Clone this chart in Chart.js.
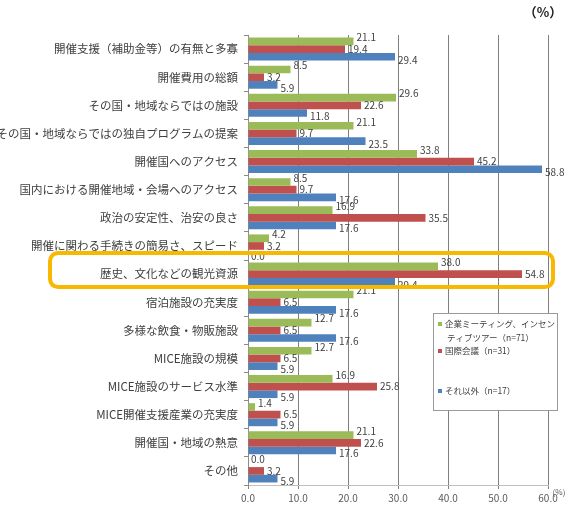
<!DOCTYPE html>
<html lang="ja">
<head>
<meta charset="utf-8">
<title>開催地選定で重視する項目</title>
<script src="https://cdn.jsdelivr.net/npm/chart.js@4"></script>
<style>
  html, body { margin: 0; padding: 0; background: #ffffff; }
  #wrap { width: 569px; height: 507px; position: relative; }
</style>
</head>
<body>
<div id="wrap"><canvas id="grafik"></canvas></div>
<script>
// =====================================================
// DATA — nilai dibaca dari gambar referensi (%)
// =====================================================
const kategori = [
  "開催支援（補助金等）の有無と多寡",
  "開催費用の総額",
  "その国・地域ならではの施設",
  "その国・地域ならではの独自プログラムの提案",
  "開催国へのアクセス",
  "国内における開催地域・会場へのアクセス",
  "政治の安定性、治安の良さ",
  "開催に関わる手続きの簡易さ、スピード",
  "歴史、文化などの観光資源",
  "宿泊施設の充実度",
  "多様な飲食・物販施設",
  "MICE施設の規模",
  "MICE施設のサービス水準",
  "MICE開催支援産業の充実度",
  "開催国・地域の熱意",
  "その他",
];

// 企業ミーティング、インセンティブツアー（n=71）
const nilaiKigyo = [21.1, 8.5, 29.6, 21.1, 33.8, 8.5, 16.9, 4.2, 38.0, 21.1, 12.7, 12.7, 16.9, 1.4, 21.1, 0.0];
// 国際会議（n=31）
const nilaiKokusai = [19.4, 3.2, 22.6, 9.7, 45.2, 9.7, 35.5, 3.2, 54.8, 6.5, 6.5, 6.5, 25.8, 6.5, 22.6, 3.2];
// それ以外（n=17）
const nilaiLainnya = [29.4, 5.9, 11.8, 23.5, 58.8, 17.6, 17.6, 0.0, 29.4, 17.6, 17.6, 5.9, 5.9, 5.9, 17.6, 5.9];

const labelSeri = ["企業ミーティング、インセンティブツアー（n=71）", "国際会議（n=31）", "それ以外（n=17）"];
const labelLegenda = [["企業ミーティング、インセン", "ティブツアー（n=71）"], ["国際会議（n=31）"], ["それ以外（n=17）"]];
const warnaSeri = ["#9BBB59", "#C0504D", "#4F81BD"];
const kategoriSorot = 8; // 歴史、文化などの観光資源

const FONT = "'Noto Sans CJK JP', 'Noto Sans', sans-serif";

// =====================================================
// PLUGIN: label nilai di ujung batang
// =====================================================
const pluginLabelNilai = {
  id: "labelNilai",
  afterDatasetsDraw(chart) {
    const ctx = chart.ctx;
    const geser = [-4, 0, 3]; // offset vertikal per seri (gaya Excel)
    ctx.save();
    ctx.font = "10px " + FONT;
    ctx.fillStyle = "#404040";
    ctx.textAlign = "left";
    ctx.textBaseline = "middle";
    chart.data.datasets.forEach((ds, i) => {
      const meta = chart.getDatasetMeta(i);
      meta.data.forEach((bar, j) => {
        ctx.fillText(ds.data[j].toFixed(1), bar.x + 3, bar.y + geser[i]);
      });
    });
    ctx.restore();
  },
};

// =====================================================
// PLUGIN: legenda manual, kotak sorotan, satuan (%)
// =====================================================
const pluginDekorasi = {
  id: "dekorasi",
  afterDraw(chart) {
    const ctx = chart.ctx;
    const sx = chart.scales.x;
    const sy = chart.scales.y;
    ctx.save();

    // Kotak legenda (putih, menutupi garis grid)
    const lx = 433, ly = 313, lw = 124, lh = 97;
    ctx.fillStyle = "#ffffff";
    ctx.fillRect(lx, ly, lw, lh);
    ctx.strokeStyle = "#9a9a9a";
    ctx.lineWidth = 1;
    ctx.strokeRect(lx + 0.5, ly + 0.5, lw, lh);

    ctx.font = "8.5px " + FONT;
    ctx.textBaseline = "middle";
    ctx.textAlign = "left";
    const barisY = [[324, 338], [351], [391]];
    labelLegenda.forEach((baris, i) => {
      ctx.fillStyle = warnaSeri[i];
      ctx.fillRect(lx + 5, barisY[i][0] - 2, 4, 4);
      ctx.fillStyle = "#404040";
      baris.forEach((teks, k) => {
        ctx.fillText(teks, lx + (k === 0 ? 12 : 14), barisY[i][k]);
      });
    });

    // Kotak sorotan oranye untuk kategori terpilih
    const cy = sy.getPixelForValue(kategoriSorot);
    const bx = 50, by = cy - 21, bw = sx.right + 5 - bx, bh = 34;
    ctx.strokeStyle = "#F9B800";
    ctx.lineWidth = 4;
    ctx.beginPath();
    ctx.roundRect(bx, by, bw, bh, 8);
    ctx.stroke();

    // Satuan (%)
    ctx.fillStyle = "#222222";
    ctx.font = "bold 13px " + FONT;
    ctx.textAlign = "center";
    ctx.fillText("（%）", 543, 12);
    ctx.fillStyle = "#595959";
    ctx.font = "8px " + FONT;
    ctx.fillText("(%)", 559, sx.top + 7);

    ctx.restore();
  },
};

// =====================================================
// GRAFIK
// =====================================================
const datasetSeri = [nilaiKigyo, nilaiKokusai, nilaiLainnya].map((nilai, i) => ({
  label: labelSeri[i],
  data: nilai,
  backgroundColor: warnaSeri[i],
  borderWidth: 0,
  categoryPercentage: 0.82,
  barPercentage: 1.0,
}));

new Chart(document.getElementById("grafik"), {
  type: "bar",
  data: { labels: kategori, datasets: datasetSeri },
  plugins: [pluginLabelNilai, pluginDekorasi],
  options: {
    indexAxis: "y",
    responsive: true,
    maintainAspectRatio: false,
    animation: false,
    layout: { padding: { top: 35, right: 21, left: 0, bottom: 0 } },
    plugins: {
      legend: { display: false },
      tooltip: { enabled: false },
    },
    scales: {
      x: {
        min: 0,
        max: 60,
        ticks: {
          stepSize: 10,
          color: "#595959",
          font: { size: 10, family: FONT },
          padding: 3,
          callback: (val) => Number(val).toFixed(1),
        },
        grid: { color: "#7f7f7f", lineWidth: 1, tickLength: 4 },
        border: { color: "#bfbfbf" },
        afterFit: (scale) => { scale.height = 22; },
      },
      y: {
        ticks: {
          color: "#404040",
          font: { size: 11.5, family: FONT },
          padding: 6,
          autoSkip: false,
        },
        grid: { display: true, drawOnChartArea: false, drawTicks: true, tickLength: 4, color: "#8c8c8c" },
        border: { color: "#8c8c8c" },
        afterFit: (scale) => { scale.width = 248; },
      },
    },
  },
});
</script>
</body>
</html>
